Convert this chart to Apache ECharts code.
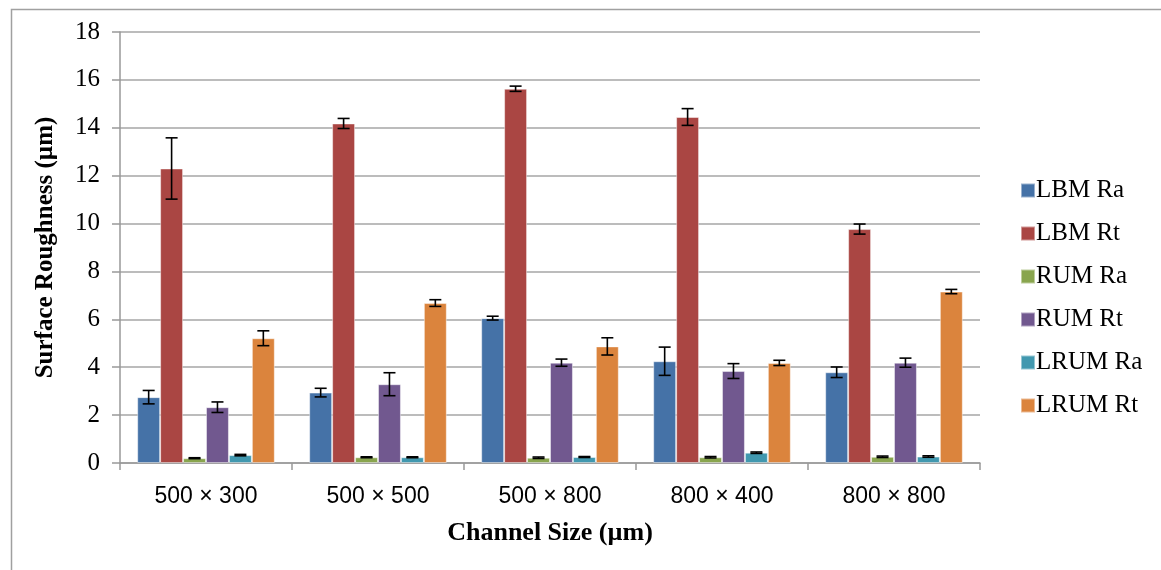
<!DOCTYPE html>
<html>
<head>
<meta charset="utf-8">
<script src="https://cdn.jsdelivr.net/npm/echarts@6/dist/echarts.min.js"></script>
<style>html,body{margin:0;padding:0;background:#fff;}#chart{width:1161px;height:570px;}</style>
</head>
<body>
<div id="chart"></div>
<script>
var categories = ['500 × 300', '500 × 500', '500 × 800', '800 × 400', '800 × 800'];
var seriesNames = ['LBM Ra', 'LBM Rt', 'RUM Ra', 'RUM Rt', 'LRUM Ra', 'LRUM Rt'];
var lbmRa = [2.75, 2.94, 6.05, 4.25, 3.79];
var lbmRt = [12.3, 14.18, 15.63, 14.45, 9.77];
var rumRa = [0.2, 0.24, 0.22, 0.24, 0.26];
var rumRt = [2.33, 3.29, 4.19, 3.84, 4.19];
var lrumRa = [0.33, 0.24, 0.25, 0.43, 0.27];
var lrumRt = [5.21, 6.68, 4.87, 4.18, 7.16];
var lbmRaErr = [0.28, 0.18, 0.08, 0.59, 0.22];
var lbmRtErr = [1.28, 0.21, 0.11, 0.35, 0.21];
var rumRaErr = [0.02, 0.02, 0.03, 0.03, 0.03];
var rumRtErr = [0.22, 0.48, 0.15, 0.31, 0.19];
var lrumRaErr = [0.03, 0.02, 0.02, 0.03, 0.03];
var lrumRtErr = [0.31, 0.14, 0.36, 0.11, 0.09];
var yTicks = [0, 2, 4, 6, 8, 10, 12, 14, 16, 18];

var values = [lbmRa, lbmRt, rumRa, rumRt, lrumRa, lrumRt];
var errors = [lbmRaErr, lbmRtErr, rumRaErr, rumRtErr, lrumRaErr, lrumRtErr];
var colors = ['#4572A7', '#AA4643', '#89A54E', '#71588F', '#4198AF', '#DB843D'];
var CAT_GAP = 0.2;
var serif = '"Liberation Serif", "Times New Roman", serif';

var chart = echarts.init(document.getElementById('chart'));
var series = [];
seriesNames.forEach(function (name, i) {
  series.push({
    name: name,
    type: 'bar',
    data: values[i],
    barGap: '0%',
    barCategoryGap: (CAT_GAP * 100) + '%',
    itemStyle: { color: colors[i], borderColor: 'rgba(255,255,255,0.45)', borderWidth: 1 },
    z: 2
  });
});
seriesNames.forEach(function (name, i) {
  var data = values[i].map(function (v, k) { return [k, v, errors[i][k]]; });
  series.push({
    name: name + ' err',
    type: 'custom',
    data: data,
    z: 5,
    silent: true,
    renderItem: function (params, api) {
      var k = api.value(0), v = api.value(1), e = api.value(2);
      var band = api.size([1, 0])[0];
      var bw = band * (1 - CAT_GAP) / seriesNames.length;
      var cx = api.coord([k, 0])[0] - band * (1 - CAT_GAP) / 2 + bw * (i + 0.5);
      var yHi = api.coord([k, v + e])[1];
      var yLo = api.coord([k, v - e])[1];
      var cap = 6;
      var st = { stroke: '#000', lineWidth: 1.6 };
      return {
        type: 'group',
        children: [
          { type: 'line', shape: { x1: cx, y1: yHi, x2: cx, y2: yLo }, style: st },
          { type: 'line', shape: { x1: cx - cap, y1: yHi, x2: cx + cap, y2: yHi }, style: st },
          { type: 'line', shape: { x1: cx - cap, y1: yLo, x2: cx + cap, y2: yLo }, style: st }
        ]
      };
    }
  });
});

chart.setOption({
  animation: false,
  backgroundColor: '#fff',
  color: colors,
  graphic: [{
    type: 'rect', left: 9, top: 7,
    shape: { x: 0, y: 0, width: 1200, height: 600 },
    style: { fill: 'none', stroke: '#a0a0a0', lineWidth: 1.5 },
    z: -1, silent: true
  }],
  grid: { left: 120, right: 181, top: 32, bottom: 107, containLabel: false },
  legend: {
    data: seriesNames,
    orient: 'vertical',
    left: 1015,
    top: 173,
    itemWidth: 14,
    itemHeight: 14,
    itemGap: 18,
    icon: 'rect',
    textStyle: { fontFamily: serif, fontSize: 25, color: '#000', lineHeight: 24, padding: [0, 0, 0, -4] }
  },
  xAxis: {
    type: 'category',
    data: categories,
    name: 'Channel Size (µm)',
    nameLocation: 'middle',
    nameGap: 57,
    nameTextStyle: { fontFamily: serif, fontSize: 26, fontWeight: 'bold', color: '#000' },
    axisLine: { lineStyle: { color: '#999', width: 1.5 } },
    axisTick: { show: true, length: 7, lineStyle: { color: '#999', width: 1.5 } },
    axisLabel: { fontFamily: '"Liberation Sans", Arial, sans-serif', fontSize: 23, color: '#000', margin: 22 }
  },
  yAxis: {
    type: 'value',
    min: 0, max: 18, interval: 2,
    name: 'Surface Roughness (µm)',
    nameLocation: 'middle',
    nameGap: 62,
    nameTextStyle: { fontFamily: serif, fontSize: 25, fontWeight: 'bold', color: '#000' },
    axisLine: { show: true, lineStyle: { color: '#999', width: 1.5 } },
    axisTick: { show: true, length: 8, lineStyle: { color: '#999', width: 1.5 } },
    axisLabel: {
      fontFamily: serif, fontSize: 25, color: '#000', margin: 20,
      formatter: function (v) { return yTicks.indexOf(v) >= 0 ? String(v) : ''; }
    },
    splitLine: { lineStyle: { color: '#a6a6a6', width: 1.5 } }
  },
  series: series
});
</script>
</body>
</html>
